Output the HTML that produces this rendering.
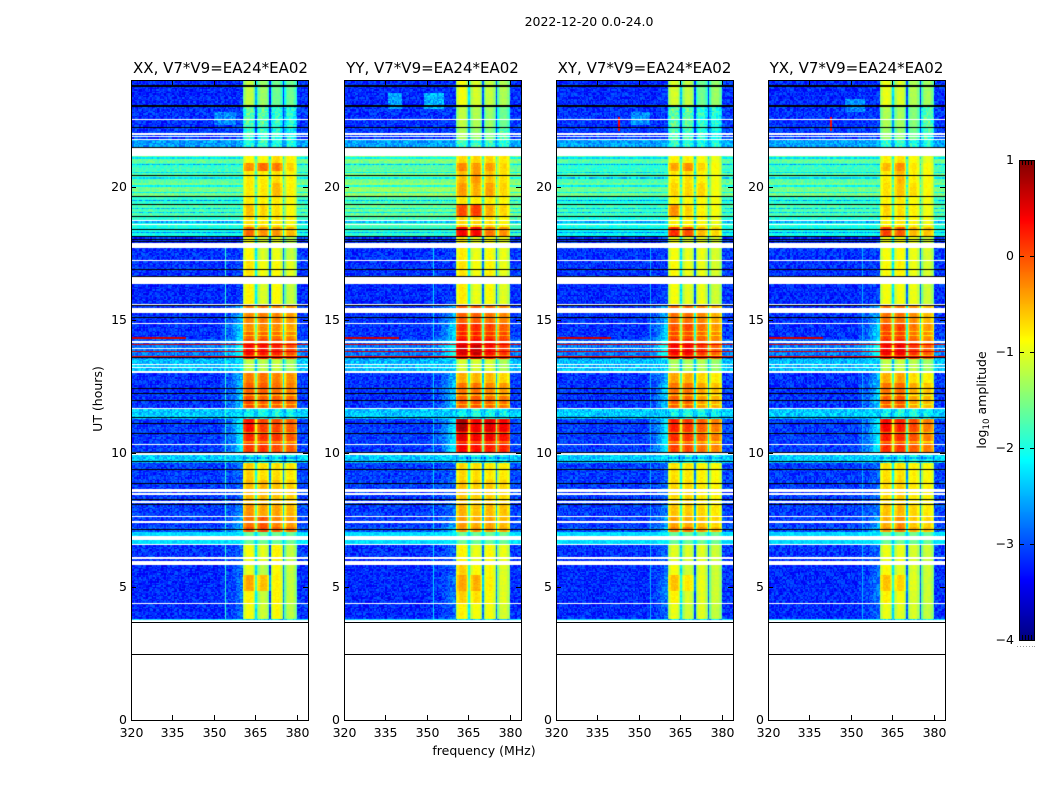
<!DOCTYPE html>
<html>
<head>
<meta charset="utf-8">
<title>Amplitude spectrograms</title>
<style>
html,body{margin:0;padding:0;background:#fff;}
#figure{position:relative;width:1050px;height:800px;overflow:hidden;background:#fff;}
canvas{position:absolute;display:block;}
#overlay{position:absolute;left:0;top:0;}
text{font-family:"DejaVu Sans","Liberation Sans",sans-serif;fill:#000;}
</style>
</head>
<body>
<div id="figure">
<canvas id="heat-0" width="177" height="640" style="left:131px;top:80px"></canvas>
<canvas id="heat-1" width="177" height="640" style="left:344px;top:80px"></canvas>
<canvas id="heat-2" width="177" height="640" style="left:556px;top:80px"></canvas>
<canvas id="heat-3" width="177" height="640" style="left:768px;top:80px"></canvas>
<canvas id="cbar" width="16" height="480" style="left:1019px;top:160px"></canvas>
<svg id="overlay" width="1050" height="800" xmlns="http://www.w3.org/2000/svg"></svg>
</div>
<script>
// ---------- chart data (log10 amplitude, hours UT, MHz) ----------
const panelTitles = ["XX, V7*V9=EA24*EA02","YY, V7*V9=EA24*EA02","XY, V7*V9=EA24*EA02","YX, V7*V9=EA24*EA02"];
const xTicks = [320,335,350,365,380];
const yTicks = [0,5,10,15,20];
const colorbarTicks = [1,0,-1,-2,-3,-4];
const segmentTops = [24,23.01,22.24,21.74,21.18,20.91,20.61,20.16,19.64,19.34,18.89,18.52,18.10,17.24,16.38,15.55,14.92,14.62,14.32,14.06,13.57,13.01,12.67,12.18,11.69,11.32,10.87,10.38,9.97,9.67,9.0,8.06,7.61,7.27,7.05,6.56,5.92,5.43,4.87,4.39,3.82];
const dataFloorHour = 3.71;
const bgLevels = [-3.2,-3.15,-3.1,-2.6,-1.65,-1.85,-1.7,-1.55,-1.9,-1.75,-1.95,-2.05,-3.15,-3.15,-3.2,-3.15,-3.15,-3.15,-2.9,-2.8,-2.45,-3.15,-3.15,-3.15,-2.4,-3.1,-3.1,-3.1,-2.4,-3.1,-3.1,-3.1,-3.1,-3.0,-2.3,-3.15,-3.2,-3.2,-3.2,-3.2,-2.3];
const midLevels = [-3.15,-3.1,-3.05,-2.55,-1.65,-1.85,-1.7,-1.55,-1.9,-1.75,-1.95,-2.05,-3.1,-3.1,-3.1,-2.5,-2.3,-2.3,-2.2,-2.0,-2.35,-2.5,-2.4,-2.4,-2.35,-2.2,-2.2,-2.2,-2.35,-2.9,-2.9,-2.8,-2.6,-2.4,-2.2,-2.9,-2.9,-2.8,-2.8,-2.9,-2.2];
const midRampStartMHz = 352;
const midRampWeights = [0,.05,.1,.1,.15,.2,.25,.3,.4,.45,.5,.6,.7,.8,.9,1,1];
const panelBgOffsets = [0,0.15,-0.05,0];
const bandsXX = [[-1.2,-1.4,-1.6,-1.6],[-1.7,-1.7,-1.9,-2],[-1.8,-1.85,-2,-2.1],[-1.9,-1.9,-2,-2],[-.9,-.9,-.7,-.85],[-.35,-.15,-.25,-.7],[-.8,-.8,-.75,-.85],[-.8,-.8,-.55,-.85],[-.8,-.85,-.8,-.9],[-.6,-.7,-.75,-.9],[-.75,-.8,-.8,-.9],[-.15,-.35,-.4,-.55],[-.9,-1.1,-1,-1.2],[-.75,-.95,-.9,-1.05],[-.85,-1.1,-.9,-1.2],[-.3,-.25,-.3,-.4],[-.35,-.3,-.35,-.45],[-.15,-.15,-.2,-.3],[0,0,-.05,-.2],[.3,.25,.2,0],[-1.2,-1.25,-1.2,-1.35],[-.25,-.2,-.3,-.35],[-.1,-.1,-.2,-.25],[0,-.1,-.1,-.15],[-2.1,-2.0,-2.0,-2.1],[.3,.05,0,-.1],[.2,.1,.1,-.05],[.1,.1,0,-.1],[-2.1,-2.0,-2.0,-2.1],[-.65,-.75,-.75,-.8],[-.55,-.55,-.6,-.65],[-.35,-.45,-.45,-.55],[-.2,-.05,-.3,-.4],[-.05,0,-.15,-.2],[-1.6,-1.6,-1.6,-1.6],[-.95,-1.05,-.85,-1.2],[-1,-1.25,-.9,-1.2],[-.45,-.6,-.85,-1.2],[-.85,-1.2,-.85,-1.2],[-.95,-1.15,-.9,-1.25],[-2.2,-2.2,-2.2,-2.2]];
const bandsYY = [[-.95,-1.1,-1.2,-1.3],[-1.2,-1.3,-1.4,-1.6],[-1.3,-1.4,-1.5,-1.7],[-1.8,-1.8,-1.9,-1.9],[-.7,-.7,-.7,-.8],[-.3,-.4,-.4,-.7],[-.55,-.4,-.6,-.75],[-.4,-.5,-.45,-.7],[-.75,-.8,-.8,-.85],[0,.05,-.5,-.7],[-.7,-.7,-.75,-.85],[.4,.35,-.2,-.35],[-.8,-1,-.9,-1],[-.75,-.95,-.85,-1],[-.8,-1,-.9,-1.05],[-.1,-.1,-.2,-.3],[.15,.15,.05,-.1],[.2,.2,.1,0],[.35,.35,.25,.1],[.55,.65,.3,.1],[-1.1,-1.1,-1.1,-1.3],[-.5,-.55,-.55,-.7],[-.2,-.2,-.3,-.4],[-.1,-.05,-.15,-.2],[-2.1,-2,-2,-2.1],[.8,.4,.5,.4],[.5,.4,.4,.3],[.4,.3,.25,.2],[-2.1,-2,-2,-2.1],[-.7,-.75,-.8,-.8],[-.6,-.65,-.65,-.7],[-.5,-.6,-.55,-.6],[-.4,-.5,-.45,-.55],[-.4,-.4,-.4,-.5],[-1.6,-1.6,-1.6,-1.6],[-.85,-1,-.9,-1],[-.65,-.9,-.9,-1.05],[-.45,-.5,-.85,-1.05],[-.65,-.75,-.9,-1.05],[-.85,-.95,-.95,-1.1],[-2.2,-2.2,-2.2,-2.2]];
const bandsXY = [[-1.1,-1.2,-1.6,-1.4],[-1.7,-1.7,-1.9,-2],[-1.8,-1.8,-1.95,-2.05],[-1.9,-1.9,-2,-2],[-.85,-.85,-.9,-1],[-.45,-.35,-.7,-.9],[-.8,-.75,-.85,-.95],[-.7,-.7,-.7,-.95],[-.85,-.9,-.9,-.95],[-.35,-.7,-.85,-.95],[-.85,-.85,-.9,-1],[.15,0,-.55,-.7],[-.95,-1.05,-1,-1.1],[-.9,-1,-1,-1.1],[-.95,-1.05,-1,-1.15],[-.2,-.2,-.3,-.5],[-.05,0,-.2,-.4],[0,0,-.15,-.3],[.1,.15,-.1,-.3],[.35,.35,.1,-.15],[-1.3,-1.3,-1.3,-1.4],[-.45,-.5,-.7,-.8],[-.2,-.2,-.45,-.6],[-.1,-.15,-.4,-.5],[-2.1,-2,-2,-2.1],[.2,.1,-.1,-.25],[.15,.1,-.1,-.25],[.05,0,-.2,-.3],[-2.1,-2,-2,-2.1],[-.75,-.8,-.85,-.9],[-.7,-.7,-.8,-.85],[-.6,-.65,-.7,-.8],[-.45,-.5,-.6,-.7],[-.3,-.2,-.4,-.55],[-1.6,-1.6,-1.6,-1.6],[-1.05,-1.1,-1.05,-1.15],[-.95,-1.15,-1.05,-1.15],[-.6,-.8,-1,-1.15],[-.85,-1.1,-1.05,-1.15],[-1,-1.15,-1.05,-1.2],[-2.2,-2.2,-2.2,-2.2]];
const bandsYX = [[-1,-1.1,-1.3,-1.35],[-1.3,-1.35,-1.5,-1.7],[-1.4,-1.45,-1.6,-1.8],[-1.9,-1.9,-2,-2],[-.85,-.75,-.9,-1],[-.55,-.35,-.8,-.9],[-.8,-.55,-.85,-.9],[-.75,-.6,-.75,-.9],[-.85,-.8,-.9,-.95],[-.7,-.75,-.85,-.95],[-.85,-.8,-.9,-.95],[.05,-.1,-.55,-.6],[-.95,-.9,-1,-1.1],[-.9,-.85,-1,-1.1],[-.95,-.95,-1,-1.15],[-.2,-.2,-.35,-.55],[0,.05,-.25,-.4],[.05,.05,-.2,-.35],[.15,.15,-.1,-.3],[.35,.4,.1,-.1],[-1.2,-1.2,-1.25,-1.35],[-.5,-.45,-.75,-.85],[-.2,-.15,-.5,-.6],[-.1,-.05,-.45,-.55],[-2.1,-2,-2,-2.1],[.35,.2,0,-.25],[.25,.15,-.05,-.25],[.15,.1,-.1,-.25],[-2.1,-2,-2,-2.1],[-.75,-.75,-.85,-.9],[-.7,-.65,-.8,-.85],[-.6,-.55,-.7,-.8],[-.5,-.35,-.65,-.7],[-.4,-.25,-.5,-.6],[-1.6,-1.6,-1.6,-1.6],[-1,-1,-1.1,-1.15],[-.9,-1.05,-1.1,-1.15],[-.6,-.7,-1.05,-1.15],[-.85,-.95,-1.1,-1.15],[-1,-1.05,-1.1,-1.2],[-2.2,-2.2,-2.2,-2.2]];
const subbandStartsMHz = [360.5,365.5,370.5,375.5];
const subbandEdgeShape = [-.45,-.15,0,.03,.05,.03,0,-.15,-.45];
const bandDipHours = [14.56,14.4,13.95,13.7,12.18,11.8,10.75,10.4,9.8];
const flaggedWhiteHours = [22.54,21.98,21.89,21.76,18.74,18.59,17.22,15.55,14.88,14.15,13.91,13.32,13.23,13.08,13.03,11.66,10.31,9.97,8.64,8.55,8.47,8.17,7.61,7.42,6.6,6.07,4.39];
const flaggedWhiteBlockTops = [21.44,17.88,16.57,15.44,6.86,5.92,3.75];
const flaggedWhiteBlockBottoms = [21.18,17.73,16.38,15.25,6.75,5.81,3.71];
const flaggedBlackHours = [23.78,23.01,22.24,21.48,20.45,19.64,19.34,18.89,18.40,18.13,18.02,17.93,16.87,16.64,15.52,15.09,13.57,12.41,12.22,11.99,11.34,11.13,10.72,10.04,9.67,9.37,8.88,8.28,8.06,7.12];
const dimBackgroundHours = [21.06,20.80,20.54,20.31,20.01,19.79,19.49,19.19,19.0,18.67,18.29];
const hotLineHours = [14.32,14.06,13.81,13.62];
const hotLineStarts = [320,320,320,320];
const hotLineEnds = [340,384,384,384];
const hotLineLevels = [0.6,0.5,0.55,0.45];
const rfiChannelMHz = [354,352,354,354];
const rfiLevels = [-1.9,-2.3,-2.5,-2.5];
const rfiTopHour = 17.7;
const patchesXX = [[350,358,22.3,22.8,-2.7]];
const patchesYY = [[336,341,22.9,23.5,-2.6],[349,356,22.9,23.5,-2.5]];
const patchesXY = [[342.5,343,22.1,22.6,0.4],[347,354,22.3,22.8,-2.7]];
const patchesYX = [[342.5,343,22.1,22.6,0.3],[348,355,22.8,23.3,-2.7]];
// fine grain applied to each estimated level; the reference cell noise can't be read individually
const grainOffsets = [.4,-.7,.1,.9,-.2,-.9,.6,-.4,.2,1,-.6,.3,-.1,.7,-1,.5,-.3,.8,0,-.8,.35,-.5,.95,-.15,.55,-.95,.15,.75,-.65,.25,-.35,.85,-.05,-.75,.45,-.25,.65];
const colorMin = -4, colorMax = 1;
const channelWidthMHz = 0.5, rowHours = 0.05;

// ---------- layout and scales ----------
const panelLefts = [131,344,556,768];
const panelW = 177, panelH = 640, panelTop = 80;
const fMin = 320, fMax = 384, tMin = 0, tMax = 24;
function xPix(f){ return (f-fMin)/(fMax-fMin)*panelW; }
function yPix(t){ return panelH-(t-tMin)/(tMax-tMin)*panelH; }
function clamp01(v){ return Math.max(0,Math.min(1,v)); }
function jet(v){
  const f = clamp01((v-colorMin)/(colorMax-colorMin));
  const r = clamp01(1.5-Math.abs(4*f-3)), g = clamp01(1.5-Math.abs(4*f-2)), b = clamp01(1.5-Math.abs(4*f-1));
  return "rgb("+Math.round(r*255)+","+Math.round(g*255)+","+Math.round(b*255)+")";
}
const nRows = Math.round((tMax-tMin)/rowHours);
const nChans = Math.round((fMax-fMin)/channelWidthMHz);
function rowOf(t){ return Math.floor(t/rowHours); }
const whiteRows = new Set(flaggedWhiteHours.map(rowOf));
flaggedWhiteBlockTops.forEach(function(top,i){
  for(let r=rowOf(flaggedWhiteBlockBottoms[i]); r<=rowOf(top-0.001); r++) whiteRows.add(r);
});
const blackRows = new Set(flaggedBlackHours.map(rowOf));
const dimRows = new Set(dimBackgroundHours.map(rowOf));
const dipRows = new Set(bandDipHours.map(rowOf));
function segmentOf(t){
  for(let i=0;i<segmentTops.length;i++){
    const bottom = i+1<segmentTops.length ? segmentTops[i+1] : dataFloorHour;
    if(t<=segmentTops[i] && t>bottom) return i;
  }
  return -1;
}
const panelBands = [bandsXX,bandsYY,bandsXY,bandsYX];
const panelPatches = [patchesXX,patchesYY,patchesXY,patchesYX];

function grain(p,ch,row){
  return grainOffsets[(ch*ch*5+row*row*3+ch*row+p*11+ch)%grainOffsets.length];
}
function cellLevel(p,ch,row){
  const t=(row+.5)*rowHours, f=fMin+(ch+.5)*channelWidthMHz;
  const seg=segmentOf(t);
  if(seg<0) return NaN;
  for(let h=0;h<hotLineHours.length;h++){
    if(rowOf(hotLineHours[h])===row && f>=hotLineStarts[h] && f<hotLineEnds[h]) return hotLineLevels[h];
  }
  const bands=panelBands[p][seg];
  let bg=bgLevels[seg], mid=midLevels[seg];
  if(bg>-2.3){ bg+=panelBgOffsets[p]; mid+=panelBgOffsets[p]; }
  if(dimRows.has(row)){ bg-=0.6; mid-=0.6; }
  let v;
  if(f>=subbandStartsMHz[0] && f<380){
    const idx=Math.floor((f-subbandStartsMHz[0])/5);
    const off=f-subbandStartsMHz[idx];
    if(off>=4.5){
      v=Math.max(bg,bands[idx]-(idx===0?1.3:1.9));
      return v+grain(p,ch,row)*.12;
    }
    const shape=subbandEdgeShape[Math.floor(off/channelWidthMHz)];
    const dip=dipRows.has(row)?.45:0;
    const level=bands[idx]+shape-dip;
    return level+grain(p,ch,row)*(bands[idx]<-1.6?.3:.07);
  }
  if(f>=fMax-4) v=bg+.05;
  else if(f>=midRampStartMHz){
    const rampIndex=Math.floor((f-midRampStartMHz)/channelWidthMHz);
    const w=midRampWeights[Math.min(midRampWeights.length-1,rampIndex)];
    v=bg+(mid-bg)*w;
  }
  else v=bg;
  for(const patch of panelPatches[p]){
    if(f>=patch[0]&&f<patch[1]&&t>=patch[2]&&t<patch[3]){
      if(patch[4]>-1) return patch[4];
      v=patch[4];
    }
  }
  if(Math.abs(f-rfiChannelMHz[p]-.25)<.01 && bg<-2.3 && t<rfiTopHour) return rfiLevels[p];
  return v+grain(p,ch,row)*(v<-2.3?.3:.16);
}

function drawCells(ctx,p,r,y1,y2){
  for(let c=0;c<nChans;c++){
    const v=cellLevel(p,c,r);
    if(isNaN(v)) continue;
    const f=fMin+c*channelWidthMHz;
    const x1=Math.round(xPix(f)), x2=Math.round(xPix(f+channelWidthMHz));
    ctx.fillStyle=jet(v);
    ctx.fillRect(x1,y1,x2-x1,y2-y1);
  }
}
function drawPanel(p){
  const ctx=document.getElementById("heat-"+p).getContext("2d");
  for(let r=0;r<nRows;r++){
    if(whiteRows.has(r)) continue;
    const t=r*rowHours;
    if(t+rowHours<=dataFloorHour) continue;
    const y1=Math.round(yPix(t+rowHours)), y2=Math.round(yPix(t));
    if(blackRows.has(r)){
      ctx.fillStyle="#000";
      ctx.fillRect(0,y1,panelW,t>21.4?Math.max(1,y2-y1):1);
      if(t<=21.4 && y2-y1>1) drawCells(ctx,p,r,y1+1,y2);
      continue;
    }
    drawCells(ctx,p,r,y1,y2);
  }
}
[0,1,2,3].forEach(drawPanel);

// colorbar gradient
(function(){
  const ctx=document.getElementById("cbar").getContext("2d");
  for(let y=0;y<480;y++){
    ctx.fillStyle=jet(colorMax-(y+.5)/480*(colorMax-colorMin));
    ctx.fillRect(0,y,16,1);
  }
})();

// ---------- SVG helpers ----------
const svg=document.getElementById("overlay");
const NS="http://www.w3.org/2000/svg";
function addLine(x1,y1,x2,y2,name,stroke){
  const el=document.createElementNS(NS,"line");
  el.setAttribute("x1",x1);el.setAttribute("y1",y1);el.setAttribute("x2",x2);el.setAttribute("y2",y2);
  el.setAttribute("stroke",stroke||"#000");el.setAttribute("stroke-width","1");
  
  
  svg.appendChild(el);
  return el;
}
function addText(str,x,y,size,anchor,name){
  const el=document.createElementNS(NS,"text");
  el.setAttribute("x",x);el.setAttribute("y",y);el.setAttribute("font-size",size);el.setAttribute("text-anchor",anchor);
  el.textContent=str;
  
  
  svg.appendChild(el);
  return el;
}

const seriesIds=["xx","yy","xy","yx"];
panelLefts.forEach(function(left,p){
  const id=seriesIds[p];
  const frame=document.createElementNS(NS,"rect");
  frame.setAttribute("x",left+.5);frame.setAttribute("y",panelTop+.5);
  frame.setAttribute("width",panelW);frame.setAttribute("height",panelH);
  frame.setAttribute("fill","none");frame.setAttribute("stroke","#000");frame.setAttribute("stroke-width","1");
  
  
  svg.appendChild(frame);
  addText(panelTitles[p],left+panelW/2+(p===0?1:0),73,15,"middle",'panel-title-'+id);
  xTicks.forEach(function(f){
    const x=Math.round(left+xPix(f))+.5;
    addLine(x,panelTop+panelH,x,panelTop+panelH-5,'x-tick-bottom-'+id+'-'+f);
    addLine(x,panelTop,x,panelTop+5,'x-tick-top-'+id+'-'+f);
    addText(String(f),x,737,12.5,"middle",'x-tick-label-'+id+'-'+f);
  });
  yTicks.forEach(function(t){
    const y=Math.round(panelTop+yPix(t))+.5;
    addLine(left,y,left+5,y,'y-tick-left-'+id+'-'+t);
    addLine(left+panelW-5,y,left+panelW,y,'y-tick-right-'+id+'-'+t);
    addText(String(t),left-4,y+3.5,12.5,"end",'y-tick-label-'+id+'-'+t);
  });
});
// horizontal rules in the empty low range
[3.67,2.46].forEach(function(t,i){
  panelLefts.forEach(function(left,p){
    const y=Math.round(panelTop+yPix(t))+.5;
    addLine(left,y,left+panelW,y,'empty-range-rule-'+seriesIds[p]+'-'+i);
  });
});

addText("2022-12-20 0.0-24.0",589,26,12.5,"middle",'figure-title');
addText("frequency (MHz)",484,755,12.5,"middle",'x-axis-title');
const yTitle=addText("UT (hours)",0,0,12.5,"middle",'y-axis-title');
yTitle.setAttribute("transform","translate(102,399) rotate(-90)");

// colorbar frame and ticks
const cbLeft=1019,cbRight=1034,cbTop=160,cbBottom=640;
function cbY(v){ return cbTop+(colorMax-v)/(colorMax-colorMin)*(cbBottom-cbTop); }
const cbFrame=document.createElementNS(NS,"rect");
cbFrame.setAttribute("x",cbLeft+.5);cbFrame.setAttribute("y",cbTop+.5);
cbFrame.setAttribute("width",cbRight-cbLeft);cbFrame.setAttribute("height",cbBottom-cbTop);
cbFrame.setAttribute("fill","none");cbFrame.setAttribute("stroke","#000");


svg.appendChild(cbFrame);
colorbarTicks.forEach(function(v){
  const y=Math.round(cbY(v))+.5;
  addLine(cbLeft,y,cbLeft+5,y,'colorbar-tick-left-'+v);
  addLine(cbRight-4,y,cbRight+1,y,'colorbar-tick-right-'+v);
  addText((v<0?"\u2212":"")+Math.abs(v),cbLeft-5,y+3.5,12.5,"end",'colorbar-tick-label-'+v);
});
[1022,1025,1028,1031].forEach(function(x,i){
  addLine(x+.5,cbTop,x+.5,cbTop+5,'colorbar-minor-top-'+i);
  addLine(x+.5,cbBottom,x+.5,cbBottom-5,'colorbar-minor-bottom-'+i);
});
[1017,1020,1023,1026,1029,1032,1034].forEach(function(x,i){
  addLine(x,646.5,x+1,646.5,'colorbar-dot-'+i,"#999");
});
const cbTitle=document.createElementNS(NS,"text");
cbTitle.setAttribute("font-size","12.5");
cbTitle.setAttribute("text-anchor","middle");
cbTitle.setAttribute("transform","translate(986,400) rotate(-90)");


const t1=document.createElementNS(NS,"tspan");t1.textContent="log";
const t2=document.createElementNS(NS,"tspan");t2.textContent="10";t2.setAttribute("font-size","8.75");t2.setAttribute("dy","3");
const t3=document.createElementNS(NS,"tspan");t3.textContent=" amplitude";t3.setAttribute("dy","-3");
cbTitle.appendChild(t1);cbTitle.appendChild(t2);cbTitle.appendChild(t3);
svg.appendChild(cbTitle);
</script>
</body>
</html>
